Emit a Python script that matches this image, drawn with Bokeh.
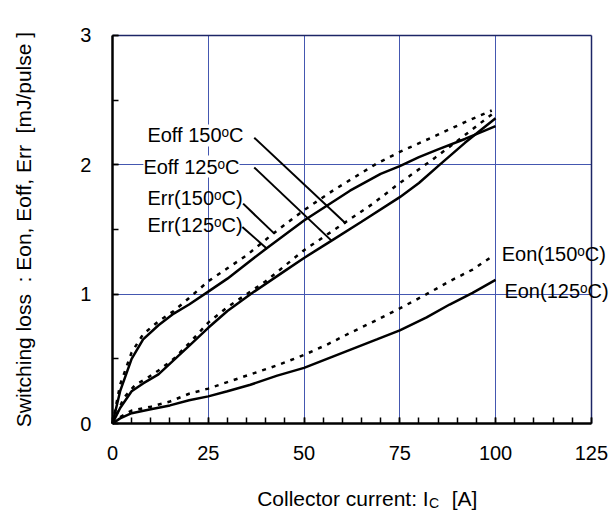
import math
from bokeh.plotting import figure
from bokeh.models import Range1d, FixedTicker, Label, Grid
from bokeh.embed import file_html
from bokeh.resources import INLINE

# ---- data ----
err125_x = [0, 2, 5, 8, 12, 16, 20, 25, 30, 40, 50, 62, 70, 75, 80, 85, 92, 100]
err125_y = [0, 0.25, 0.50, 0.65, 0.76, 0.85, 0.92, 1.02, 1.12, 1.35, 1.57, 1.80, 1.93, 1.99, 2.06, 2.12, 2.20, 2.30]

err150_x = [0, 2, 5, 8, 12, 16, 20, 25, 30, 35, 42, 50, 58, 69, 75, 84, 92, 99]
err150_y = [0, 0.30, 0.55, 0.69, 0.79, 0.87, 0.97, 1.10, 1.20, 1.30, 1.47, 1.65, 1.81, 2.01, 2.10, 2.22, 2.33, 2.42]

eoff125_x = [0, 2, 5, 8, 12, 16, 20, 25, 30, 37, 45, 50, 57, 65, 75, 80, 85, 92, 100]
eoff125_y = [0, 0.12, 0.25, 0.31, 0.38, 0.49, 0.60, 0.74, 0.87, 1.02, 1.18, 1.28, 1.41, 1.56, 1.75, 1.86, 1.99, 2.17, 2.36]

eoff150_x = [0, 3, 6, 9, 12, 16, 20, 25, 30, 35, 40, 50, 61, 68, 75, 84, 92, 99]
eoff150_y = [0, 0.20, 0.30, 0.35, 0.41, 0.50, 0.62, 0.78, 0.90, 1.00, 1.10, 1.34, 1.56, 1.70, 1.86, 2.05, 2.23, 2.39]

eon150_x = [0, 2, 5, 10, 15, 20, 25, 30, 36, 43, 50, 56, 62, 69, 75, 82, 88, 94, 99]
eon150_y = [0, 0.05, 0.10, 0.13, 0.17, 0.23, 0.27, 0.32, 0.38, 0.45, 0.53, 0.61, 0.70, 0.80, 0.89, 1.00, 1.10, 1.19, 1.29]

eon125_x = [0, 2, 5, 10, 15, 20, 25, 30, 36, 43, 50, 56, 62, 69, 75, 82, 88, 94, 100]
eon125_y = [0, 0.04, 0.08, 0.11, 0.14, 0.18, 0.21, 0.25, 0.30, 0.37, 0.43, 0.50, 0.57, 0.65, 0.72, 0.82, 0.92, 1.01, 1.11]

x_ticks = [0, 25, 50, 75, 100, 125]
x_minor = list(range(0, 126, 5))
y_ticks = [0, 1, 2, 3]
y_minor = [0, 0.5, 1, 1.5, 2, 2.5, 3]
x_grid = [25, 50, 75, 100]
y_grid = [1, 2]
x_max, y_max = 125, 3

# curve labels and their leader lines
label_texts = ["Eoff 150\u1d52C", "Eoff 125\u1d52C", "Err(150\u1d52C)", "Err(125\u1d52C)", "Eon(150\u1d52C)", "Eon(125\u1d52C)"]
label_x = [9.11, 8.07, 9.11, 9.11, 101.6, 102.3]
label_y = [2.227, 1.987, 1.747, 1.531, 1.307, 1.028]
label_bg = [True, True, False, False, False, False]

lead_x0 = [37.0, 37.0, 34.1, 33.9]
lead_y0 = [2.21, 1.98, 1.70, 1.52]
lead_x1 = [60.9, 57.3, 42.2, 40.4]
lead_y1 = [1.547, 1.41, 1.47, 1.35]

y_title = "Switching loss\u00a0 : Eon, Eoff, Err\u00a0 [mJ/pulse ]"
x_title = "Collector current: I"
x_title_sub = "C"
x_title_unit = "[A]"

FONT = "Liberation Sans"
FS = "20px"
AFS = "21px"

# the frame fills the canvas; axes are fixed at 0 so that outer texts are not clipped
p = figure(width=610, height=512, output_backend="svg", toolbar_location=None,
           x_range=Range1d(-29.23, 130), y_range=Range1d(-0.688, 3.2706),
           min_border_left=0, min_border_right=0, min_border_top=0, min_border_bottom=0)

p.background_fill_color = "white"
p.border_fill_color = "white"
p.outline_line_color = None

grid_color = "#4457b0"
p.xgrid.ticker = FixedTicker(ticks=x_grid)
p.ygrid.ticker = FixedTicker(ticks=y_grid)
p.xgrid.grid_line_color = grid_color
p.ygrid.grid_line_color = grid_color
p.xgrid.grid_line_width = 1
p.ygrid.grid_line_width = 1
p.xgrid.cross_bounds = (0, y_max)
p.ygrid.cross_bounds = (0, x_max)

# frame border on the right and top (dark)
border_color = "#1c2566"
p.add_layout(Grid(dimension=0, ticker=FixedTicker(ticks=[x_max]), grid_line_color=border_color,
                  grid_line_width=1.5, cross_bounds=(0, y_max)))
p.add_layout(Grid(dimension=1, ticker=FixedTicker(ticks=[y_max]), grid_line_color=border_color,
                  grid_line_width=1.5, cross_bounds=(0, x_max)))

p.xaxis.ticker = FixedTicker(ticks=x_ticks, minor_ticks=x_minor)
p.yaxis.ticker = FixedTicker(ticks=y_ticks, minor_ticks=y_minor)
p.xaxis.fixed_location = 0
p.yaxis.fixed_location = 0
p.xaxis.bounds = (0, x_max)
p.yaxis.bounds = (0, y_max)

for ax in (p.xaxis[0], p.yaxis[0]):
    ax.axis_line_color = "black"
    ax.axis_line_width = 2.5
    ax.major_tick_line_color = "black"
    ax.minor_tick_line_color = "black"
    ax.major_tick_line_width = 1.5
    ax.minor_tick_line_width = 1.5
    ax.major_tick_in = 6
    ax.major_tick_out = 0
    ax.minor_tick_in = 6
    ax.minor_tick_out = 0
    ax.major_label_text_font = FONT
    ax.major_label_text_font_size = FS
    ax.major_label_text_color = "black"

p.xaxis.major_label_standoff = 22
p.yaxis.major_label_standoff = 21

# curves
LW = 2.5
DASH = "4 6"
p.line(err125_x, err125_y, line_color="black", line_width=LW)
p.line(err150_x, err150_y, line_color="black", line_width=LW, line_dash=DASH)
p.line(eoff125_x, eoff125_y, line_color="black", line_width=LW)
p.line(eoff150_x, eoff150_y, line_color="black", line_width=LW, line_dash=DASH)
p.line(eon125_x, eon125_y, line_color="black", line_width=LW)
p.line(eon150_x, eon150_y, line_color="black", line_width=LW, line_dash=DASH)

# leader lines
p.segment(lead_x0, lead_y0, lead_x1, lead_y1, line_color="black", line_width=2)

for t, x, y, bg in zip(label_texts, label_x, label_y, label_bg):
    lab = Label(x=x, y=y, text=t, text_font=FONT, text_font_size=FS,
                text_color="black", text_align="left", text_baseline="middle")
    if bg:
        lab.background_fill_color = "white"
    p.add_layout(lab)

# y axis title
p.add_layout(Label(x=-23.2, y=y_max / 2, text=y_title, angle=math.pi / 2,
                   text_font=FONT, text_font_size=AFS, text_color="black",
                   text_align="center", text_baseline="middle"))

# x axis title with subscript
xl_y = -0.576
p.add_layout(Label(x=37.76, y=xl_y, text=x_title, text_font=FONT,
                   text_font_size=AFS, text_color="black", text_align="left",
                   text_baseline="middle"))
p.add_layout(Label(x=82.6, y=xl_y, y_offset=-4.5, text=x_title_sub, text_font=FONT,
                   text_font_size="14px", text_color="black", text_align="left",
                   text_baseline="middle"))
p.add_layout(Label(x=88.54, y=xl_y, text=x_title_unit, text_font=FONT,
                   text_font_size=AFS, text_color="black", text_align="left",
                   text_baseline="middle"))

open("out.html", "w").write(file_html(p, INLINE))
